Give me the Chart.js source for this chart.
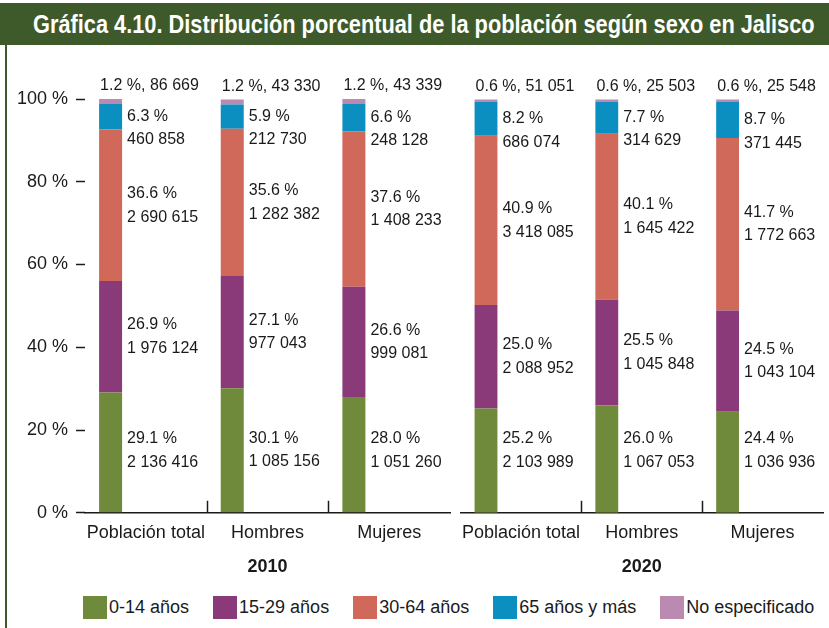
<!DOCTYPE html>
<html lang="es">
<head>
  <meta charset="UTF-8">
  <title>Gráfica 4.10 - Jalisco</title>
  <script src="https://cdn.jsdelivr.net/npm/chart.js"></script>
  <style>
    html, body { margin:0; padding:0; background:#fff; }
    body { width:829px; height:628px; position:relative; overflow:hidden; font-family:"Liberation Sans", Arial, sans-serif; color:#1a1a1a; }
    #titulo { position:absolute; left:0; top:3px; width:829px; height:42px; background:#3e5a2b; }
    #titulo span { position:absolute; left:33px; top:50%; transform-origin:left center; color:#fff; font-weight:bold; font-size:25px; line-height:1; white-space:nowrap; font-family:"Liberation Sans Narrow", "Liberation Sans", Arial, sans-serif; }
    #borde { position:absolute; left:5px; top:45px; width:2px; height:583px; background:#3e5a2b; }
    .panel { position:absolute; top:46px; height:540px; }
    #leyenda { position:absolute; left:83px; top:596px; display:flex; gap:24px; font-size:18px; line-height:23px; }
    .item { display:flex; align-items:center; }
    .caja { width:24px; height:23px; margin-right:2px; }
  </style>
</head>
<body>
  <div id="titulo"><span id="tituloTxt">Gráfica 4.10. Distribución porcentual de la población según sexo en Jalisco</span></div>
  <div id="borde"></div>
  <div class="panel" style="left:0;width:452px;"><canvas id="g2010" width="452" height="540"></canvas></div>
  <div class="panel" style="left:452px;width:377px;"><canvas id="g2020" width="377" height="540"></canvas></div>
  <div id="leyenda"></div>
  <script>
    // categorías y series
    const categorias = ['Población total', 'Hombres', 'Mujeres'];
    const series = ['0-14 años', '15-29 años', '30-64 años', '65 años y más', 'No especificado'];
    const colores = ['#6f8a3a', '#8b3a79', '#d0695a', '#0b8fc0', '#ba8ab0'];
    const ticksY = [0, 20, 40, 60, 80, 100];

    // porcentajes por serie: [total, hombres, mujeres]
    const pct2010 = [
      [29.1, 30.1, 28.0],
      [26.9, 27.1, 26.6],
      [36.6, 35.6, 37.6],
      [6.3, 5.9, 6.6],
      [1.2, 1.2, 1.2]
    ];
    const pob2010 = [
      [2136416, 1085156, 1051260],
      [1976124, 977043, 999081],
      [2690615, 1282382, 1408233],
      [460858, 212730, 248128],
      [86669, 43330, 43339]
    ];
    const pct2020 = [
      [25.2, 26.0, 24.4],
      [25.0, 25.5, 24.5],
      [40.9, 40.1, 41.7],
      [8.2, 7.7, 8.7],
      [0.6, 0.6, 0.6]
    ];
    const pob2020 = [
      [2103989, 1067053, 1036936],
      [2088952, 1045848, 1043104],
      [3418085, 1645422, 1772663],
      [686074, 314629, 371445],
      [51051, 25503, 25548]
    ];

    const fuente = '"Liberation Sans", Arial, sans-serif';
    Chart.defaults.font.family = fuente;
    Chart.defaults.color = '#1a1a1a';

    function miles(n) {
      return String(n).replace(/\B(?=(\d{3})+(?!\d))/g, ' ');
    }

    // etiquetas a la derecha de cada segmento
    const etiquetas = {
      id: 'etiquetas',
      afterDatasetsDraw(chart) {
        const ctx = chart.ctx;
        const y = chart.scales.y;
        ctx.save();
        ctx.font = '16px ' + fuente;
        ctx.fillStyle = '#1a1a1a';
        ctx.textBaseline = 'middle';
        ctx.textAlign = 'left';
        series.forEach((_, d) => {
          const ds = chart.data.datasets[d];
          chart.getDatasetMeta(d).data.forEach((bar, i) => {
            const p = ds.data[i].toFixed(1) + ' %';
            const n = miles(ds.pob[i]);
            const izq = bar.x - bar.width / 2;
            const der = bar.x + bar.width / 2;
            if (d === 4) {
              ctx.fillText(p + ', ' + n, izq + 1, bar.y - 13);
              return;
            }
            let medio = (bar.y + bar.base) / 2;
            if (d === 0) medio = Math.min(medio, y.getPixelForValue(15));
            if (d === 3) medio += 11.5;
            ctx.fillText(p, der + 5, medio - 11.75);
            ctx.fillText(n, der + 5, medio + 11.75);
          });
        });
        ctx.restore();
      }
    };

    // pequeñas marcas verticales entre categorías
    const separadores = {
      id: 'separadores',
      afterDraw(chart) {
        const {ctx, scales: {x, y}} = chart;
        ctx.save();
        ctx.strokeStyle = '#1a1a1a';
        ctx.lineWidth = 1.5;
        for (let i = 0; i < categorias.length - 1; i++) {
          const px = Math.round((x.getPixelForValue(i) + x.getPixelForValue(i + 1)) / 2) + 0.5;
          ctx.beginPath();
          ctx.moveTo(px, y.bottom);
          ctx.lineTo(px, y.bottom - 12);
          ctx.stroke();
        }
        ctx.restore();
      }
    };

    function grafica(id, anio, pct, pob, conEjeY, padding) {
      const datasets = series.map((s, i) => ({
        label: s, data: pct[i], pob: pob[i], backgroundColor: colores[i], stack: 'edad'
      }));
      // pilas vacías para que la barra quede a la izquierda de su categoría
      datasets.push({label: '', data: [0, 0, 0], backgroundColor: 'rgba(0,0,0,0)', stack: 'hueco1'});
      datasets.push({label: '', data: [0, 0, 0], backgroundColor: 'rgba(0,0,0,0)', stack: 'hueco2'});
      return new Chart(document.getElementById(id), {
        type: 'bar',
        data: {labels: categorias, datasets},
        options: {
          responsive: false,
          animation: false,
          layout: {padding},
          datasets: {bar: {categoryPercentage: 0.87, barPercentage: 0.652}},
          plugins: {legend: {display: false}, tooltip: {enabled: false}},
          scales: {
            x: {
              stacked: true,
              grid: {display: false, drawTicks: false},
              border: {display: true, color: '#1a1a1a', width: 1.5},
              ticks: {font: {size: 18}, padding: 9, color: '#1a1a1a', maxRotation: 0, autoSkip: false},
              title: {display: true, text: anio, font: {size: 18, weight: 'bold'}, color: '#1a1a1a', padding: {top: 4, bottom: 0}}
            },
            y: {
              display: conEjeY,
              stacked: true,
              min: 0,
              max: 100,
              afterBuildTicks: (axis) => { axis.ticks = ticksY.map(v => ({value: v})); },
              grid: {drawOnChartArea: false, drawTicks: true, tickLength: 9, tickColor: '#1a1a1a', tickWidth: 1.5},
              border: {display: false},
              ticks: {font: {size: 18}, padding: 8, color: '#1a1a1a', callback: v => v + ' %'}
            }
          }
        },
        plugins: [etiquetas, separadores]
      });
    }

    grafica('g2010', '2010', pct2010, pob2010, true, {top: 53, bottom: 8, left: 9, right: 2});
    grafica('g2020', '2020', pct2020, pob2020, false, {top: 53, bottom: 8, left: 6, right: 6});

    // leyenda
    const leyenda = document.getElementById('leyenda');
    series.forEach((s, i) => {
      const it = document.createElement('div');
      it.className = 'item';
      it.innerHTML = '<div class="caja" style="background:' + colores[i] + '"></div><span>' + s + '</span>';
      leyenda.appendChild(it);
    });

    // ajustar el ancho del título
    const t = document.getElementById('tituloTxt');
    t.style.transform = 'translateY(-50%) scaleX(' + (782 / t.offsetWidth) + ')';
  </script>
</body>
</html>
